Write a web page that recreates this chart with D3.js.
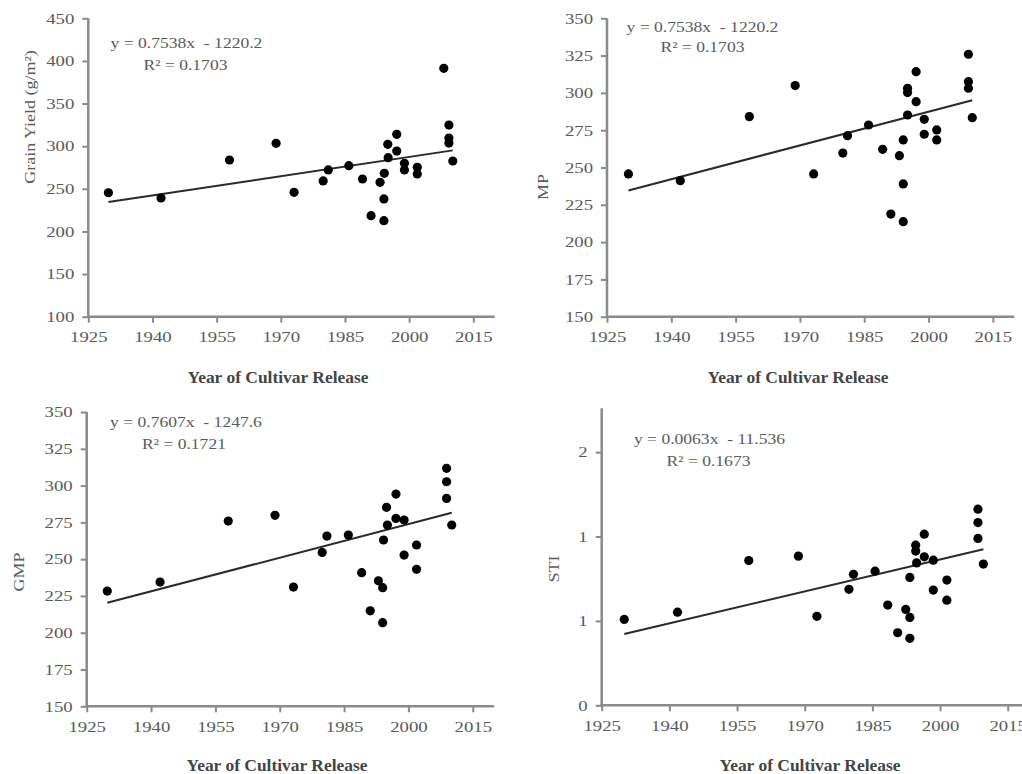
<!DOCTYPE html>
<html>
<head>
<meta charset="utf-8">
<script src="https://cdn.jsdelivr.net/npm/d3@7"></script>
<style>
  html, body { margin: 0; padding: 0; background: #fff; }
  svg { display: block; }
  text { font-family: "Liberation Serif", "Times New Roman", serif; white-space: pre; }
</style>
</head>
<body>
<svg id="chart" width="1022" height="774"></svg>
<script>
// ---------- DATA ----------
const xTitle = "Year of Cultivar Release";
const yTitles = ["Grain Yield (g/m²)", "MP", "GMP", "STI"];

const years1 = [1929.7,1942.0,1958.0,1968.9,1973.1,1979.9,1981.1,1985.9,1989.1,1991.1,1993.2,1994.1,1994.1,1994.2,1995.0,1995.1,1997.1,1997.1,1998.9,1998.9,2001.9,2001.9,2008.1,2009.3,2009.3,2009.3,2010.2];
const values1 = [245.4,239.2,283.8,303.4,245.9,259.2,272.1,277.1,261.5,218.5,257.6,238.1,212.6,268.2,302.2,286.5,313.9,294.3,279.9,272.1,275.2,267.4,391.3,324.8,309.5,303.6,282.6];

const years2 = [1930.0,1942.1,1958.2,1968.9,1973.2,1980.0,1981.1,1986.0,1989.3,1991.2,1993.2,1994.1,1994.1,1994.1,1995.1,1995.1,1995.1,1997.1,1997.1,1999.0,1999.0,2001.9,2001.9,2009.3,2009.3,2009.3,2010.2];
const values2 = [245.7,241.2,284.1,304.9,245.7,259.7,271.3,278.5,262.2,218.8,257.9,239.0,213.7,268.5,303.1,300.2,285.2,314.2,294.1,282.3,272.3,275.2,268.5,325.9,307.5,303.1,283.4];

const years3 = [1929.8,1942.1,1958.0,1968.9,1973.2,1979.9,1981.0,1986.0,1989.1,1991.1,1993.0,1994.0,1994.0,1994.2,1994.9,1995.1,1997.1,1997.1,1999.0,1999.0,2001.9,2001.9,2008.9,2008.9,2008.9,2010.1];
const values3 = [228.3,234.4,275.9,279.8,231.0,254.6,265.7,266.4,240.8,214.9,235.3,230.6,206.8,263.0,285.2,273.2,294.2,277.7,276.6,252.8,259.6,243.1,311.7,302.6,291.3,273.2];

const years4 = [1930.0,1941.8,1957.6,1968.6,1972.7,1979.8,1980.8,1985.6,1988.4,1990.6,1992.4,1993.3,1993.3,1993.3,1994.6,1994.6,1994.8,1996.5,1996.5,1998.5,1998.5,2001.5,2001.5,2008.4,2008.4,2008.4,2009.6];
const values4 = [0.709,0.752,1.058,1.084,0.727,0.887,0.976,0.995,0.794,0.630,0.768,0.721,0.597,0.958,1.149,1.114,1.044,1.214,1.080,1.060,0.883,0.942,0.823,1.362,1.283,1.189,1.037];

// trend line equations shown on each panel
const slopes = [0.7538, 0.7538, 0.7607, 0.0063];
const intercepts = [-1220.2, -1220.2, -1247.6, -11.536];
const slopeLabels = ["0.7538", "0.7538", "0.7607", "0.0063"];
const interceptLabels = ["1220.2", "1220.2", "1247.6", "11.536"];
const r2Labels = ["0.1703", "0.1703", "0.1721", "0.1673"];

// axis ticks
const xTicks = [1925, 1940, 1955, 1970, 1985, 2000, 2015];
const xDomain = [1925, 2020];
const yTicks1 = [100, 150, 200, 250, 300, 350, 400, 450];
const yTicks2 = [150, 175, 200, 225, 250, 275, 300, 325, 350];
const yTicks3 = [150, 175, 200, 225, 250, 275, 300, 325, 350];
const yTicks4 = [0.2, 0.7, 1.2, 1.7];

// ---------- LAYOUT ----------
const panels = [
  { years: years1, values: values1, yTicks: yTicks1, yDomain: [100, 450], fmt: d3.format("d"),
    left: 88.3, right: 494.7, top: 18.3, bottom: 316.7,
    yTitlePos: [30, 117], xTitlePos: [278, 377], eqPos: [186.5, 43], r2Pos: [185.5, 65] },
  { years: years2, values: values2, yTicks: yTicks2, yDomain: [150, 350], fmt: d3.format("d"),
    left: 607, right: 1014.3, top: 18.3, bottom: 316.7,
    yTitlePos: [543, 187], xTitlePos: [798, 377], eqPos: [702.5, 27], r2Pos: [702.5, 47] },
  { years: years3, values: values3, yTicks: yTicks3, yDomain: [150, 350], fmt: d3.format("d"),
    left: 86.7, right: 494.2, top: 412, bottom: 706.3,
    yTitlePos: [19, 572], xTitlePos: [277, 765], eqPos: [186, 422], r2Pos: [184, 444] },
  { years: years4, values: values4, yTicks: yTicks4, yDomain: [0.2, 1.96], fmt: d3.format(".0f"),
    left: 601.7, right: 1030.3, top: 408.3, bottom: 705.3,
    yTitlePos: [554, 569], xTitlePos: [810, 765], eqPos: [709.5, 439], r2Pos: [708.5, 461] }
];

const svg = d3.select("#chart");
const axisColor = "#8a8a8a";
const textColor = "#5a5a5a";

function stretch(sel, f) {
  sel.each(function () {
    const w = this.getComputedTextLength();
    d3.select(this).attr("textLength", w * f).attr("lengthAdjust", "spacingAndGlyphs");
  });
}

panels.forEach((p, i) => {
  const x = d3.scaleLinear().domain(xDomain).range([p.left, p.right]);
  const y = d3.scaleLinear().domain(p.yDomain).range([p.bottom, p.top]);
  const g = svg.append("g");

  const gx = g.append("g").attr("transform", `translate(0,${p.bottom})`)
    .call(d3.axisBottom(x).tickValues(xTicks).tickFormat(d3.format("d")).tickSizeOuter(0).tickSizeInner(6).tickPadding(9));
  const gy = g.append("g").attr("transform", `translate(${p.left},0)`)
    .call(d3.axisLeft(y).tickValues(p.yTicks).tickFormat(p.fmt).tickSizeOuter(0).tickSizeInner(6).tickPadding(8));

  [gx, gy].forEach(ax => {
    ax.select(".domain").attr("stroke", axisColor).attr("stroke-width", 2.5);
    ax.selectAll(".tick line").attr("stroke", axisColor).attr("stroke-width", 2);
    ax.selectAll(".tick text").attr("fill", textColor).attr("font-size", 15)
      .attr("font-family", "Liberation Serif");
    stretch(ax.selectAll(".tick text"), 1.25);
  });
  gy.select(".domain").attr("d", `M0,${p.bottom + 1.2}V${p.top}`);
  gx.select(".domain").attr("d", `M${-1.2 + p.left},0H${p.right}`);

  // trend line from first to last cultivar year
  const ext = d3.extent(p.years);
  const trend = ext.map(yr => [yr, slopes[i] * yr + intercepts[i]]);
  g.append("path")
    .attr("d", d3.line().x(d => x(d[0])).y(d => y(d[1]))(trend))
    .attr("stroke", "#2a2a2a").attr("stroke-width", 2).attr("fill", "none");

  // points
  g.selectAll("circle.pt").data(p.years.map((yr, k) => [yr, p.values[k]]))
    .join("circle").attr("class", "pt")
    .attr("cx", d => x(d[0])).attr("cy", d => y(d[1]))
    .attr("r", 4.6).attr("fill", "#000");

  // equation labels
  const eq = g.append("text").attr("x", p.eqPos[0]).attr("y", p.eqPos[1]).attr("dy", "0.35em")
    .attr("text-anchor", "middle").attr("font-size", 15).attr("fill", textColor)
    .text(`y = ${slopeLabels[i]}x  - ${interceptLabels[i]}`);
  const r2 = g.append("text").attr("x", p.r2Pos[0]).attr("y", p.r2Pos[1]).attr("dy", "0.35em")
    .attr("text-anchor", "middle").attr("font-size", 15).attr("fill", textColor)
    .text(`R² = ${r2Labels[i]}`);
  stretch(eq, 1.17);
  stretch(r2, 1.17);

  // axis titles
  const xt = g.append("text").attr("x", p.xTitlePos[0]).attr("y", p.xTitlePos[1]).attr("dy", "0.35em")
    .attr("text-anchor", "middle").attr("font-size", 16).attr("font-weight", "bold").attr("fill", "#444")
    .text(xTitle);
  stretch(xt, 1.09);
  const yt = g.append("text")
    .attr("transform", `translate(${p.yTitlePos[0]},${p.yTitlePos[1]}) rotate(-90)`)
    .attr("dy", "0.35em").attr("text-anchor", "middle").attr("font-size", 15).attr("fill", textColor)
    .text(yTitles[i]);
  stretch(yt, 1.2);
});
</script>
</body>
</html>
